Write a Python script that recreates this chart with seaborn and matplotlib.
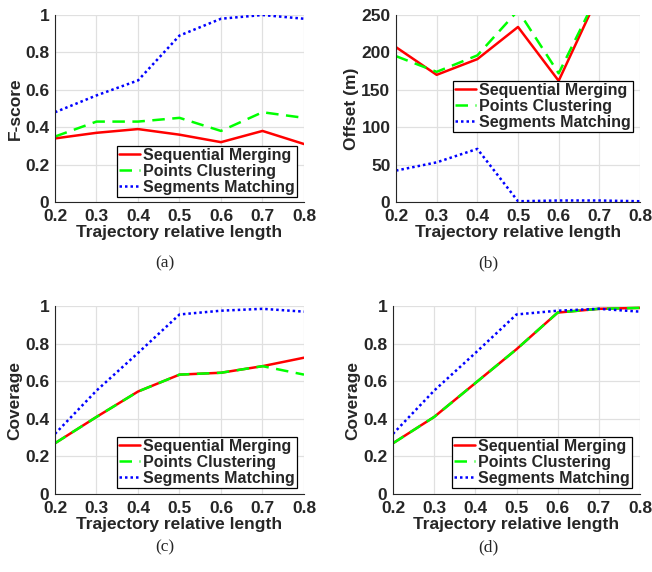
import numpy as np
import pandas as pd
import matplotlib
matplotlib.use("Agg")
import matplotlib.pyplot as plt
import seaborn as sns

sns.set_style("whitegrid")
plt.rcParams["font.family"] = ["Liberation Sans", "DejaVu Sans"]

# x values shared by all panels
lengths = [0.2, 0.3, 0.4, 0.5, 0.6, 0.7, 0.8]
methods = ["Sequential Merging", "Points Clustering", "Segments Matching"]

# (a) F-score
fscore_seq = [0.34, 0.37, 0.39, 0.36, 0.32, 0.38, 0.31]
fscore_pc = [0.35, 0.43, 0.43, 0.45, 0.38, 0.48, 0.45]
fscore_sm = [0.48, 0.57, 0.65, 0.89, 0.98, 1.00, 0.98]

# (b) Offset (m)
offset_seq = [207, 170, 191, 234, 162, 279, 300]
offset_pc = [195, 174, 196, 256, 172, 282, 300]
offset_sm = [42, 53, 71, 1, 2, 2, 1]

# (c) Coverage
cov_c_seq = [0.27, 0.41, 0.545, 0.635, 0.645, 0.68, 0.725]
cov_c_pc = [0.27, 0.41, 0.545, 0.635, 0.645, 0.68, 0.635]
cov_c_sm = [0.32, 0.55, 0.75, 0.955, 0.975, 0.985, 0.97]

# (d) Coverage
cov_d_seq = [0.27, 0.41, 0.59, 0.77, 0.965, 0.985, 0.99]
cov_d_pc = [0.27, 0.41, 0.59, 0.77, 0.965, 0.985, 0.99]
cov_d_sm = [0.32, 0.55, 0.75, 0.955, 0.975, 0.985, 0.97]


def to_frame(seq, pc, sm):
    rows = []
    for name, vals in zip(methods, [seq, pc, sm]):
        for x, v in zip(lengths, vals):
            rows.append({"length": x, "value": v, "method": name})
    return pd.DataFrame(rows)


palette = {"Sequential Merging": "#ff0000", "Points Clustering": "#00ff00",
           "Segments Matching": "#0000ff"}
dashes = {"Sequential Merging": "", "Points Clustering": (5, 3),
          "Segments Matching": (1, 1.2)}

W, H = 652, 572
fig = plt.figure(figsize=(W / 100, H / 100), dpi=100)


def px_axes(left, top, right, bottom):
    return fig.add_axes([left / W, 1 - bottom / H, (right - left) / W, (bottom - top) / H])


panels = [
    (px_axes(55, 15, 304, 202), to_frame(fscore_seq, fscore_pc, fscore_sm), "F-score",
     (0, 1), np.arange(0, 1.01, 0.2), (0.972, 0.027), "(a)", 165, 263),
    (px_axes(396, 15, 640, 202), to_frame(offset_seq, offset_pc, offset_sm), "Offset (m)",
     (0, 250), np.arange(0, 251, 50), (0.972, 0.374), "(b)", 488, 263),
    (px_axes(55, 306, 304, 494), to_frame(cov_c_seq, cov_c_pc, cov_c_sm), "Coverage",
     (0, 1), np.arange(0, 1.01, 0.2), (0.972, 0.032), "(c)", 165, 547),
    (px_axes(393, 306, 640, 494), to_frame(cov_d_seq, cov_d_pc, cov_d_sm), "Coverage",
     (0, 1), np.arange(0, 1.01, 0.2), (0.968, 0.032), "(d)", 488, 547),
]

for ax, df, ylabel, ylim, yticks, leg_pos, cap, cx, cy in panels:
    sns.lineplot(data=df, x="length", y="value", hue="method", style="method",
                 palette=palette, dashes=dashes, linewidth=1.8, ax=ax)
    ax.set_xlim(0.2, 0.8)
    ax.set_ylim(*ylim)
    ax.set_xticks(lengths)
    ax.set_xticklabels([f"{x:g}" for x in lengths])
    ax.set_yticks(yticks)
    ax.set_yticklabels([f"{y:g}" for y in yticks])
    ax.tick_params(labelsize=12.5, colors="#262626", length=0)
    ax.tick_params(axis="x", pad=5)
    ax.tick_params(axis="y", pad=4)
    for lbl in ax.get_xticklabels() + ax.get_yticklabels():
        lbl.set_fontweight("bold")
    ax.set_xlabel("Trajectory relative length", fontsize=12.5, fontweight="bold",
                  color="#262626", labelpad=1)
    ax.set_ylabel(ylabel, fontsize=12.5, fontweight="bold", color="#262626", labelpad=2)
    ax.grid(True, color="#e0e0e0", linewidth=0.9)
    for s in ax.spines.values():
        s.set_color("#262626")
        s.set_linewidth(0.8)
    ax.spines["top"].set_visible(False)
    ax.spines["right"].set_visible(False)
    leg = ax.legend(loc="lower right", bbox_to_anchor=leg_pos, fontsize=11.5,
                    frameon=True, fancybox=False, framealpha=1, edgecolor="black",
                    handlelength=1.3, handletextpad=0.2, borderpad=0.15,
                    labelspacing=0.05, borderaxespad=0)
    leg.get_frame().set_linewidth(0.9)
    for t in leg.get_texts():
        t.set_fontweight("bold")
    fig.text(cx / W, 1 - cy / H, cap, ha="center", va="center", fontsize=12.5,
             family="Liberation Serif")

fig.savefig("out.png", dpi=100)
